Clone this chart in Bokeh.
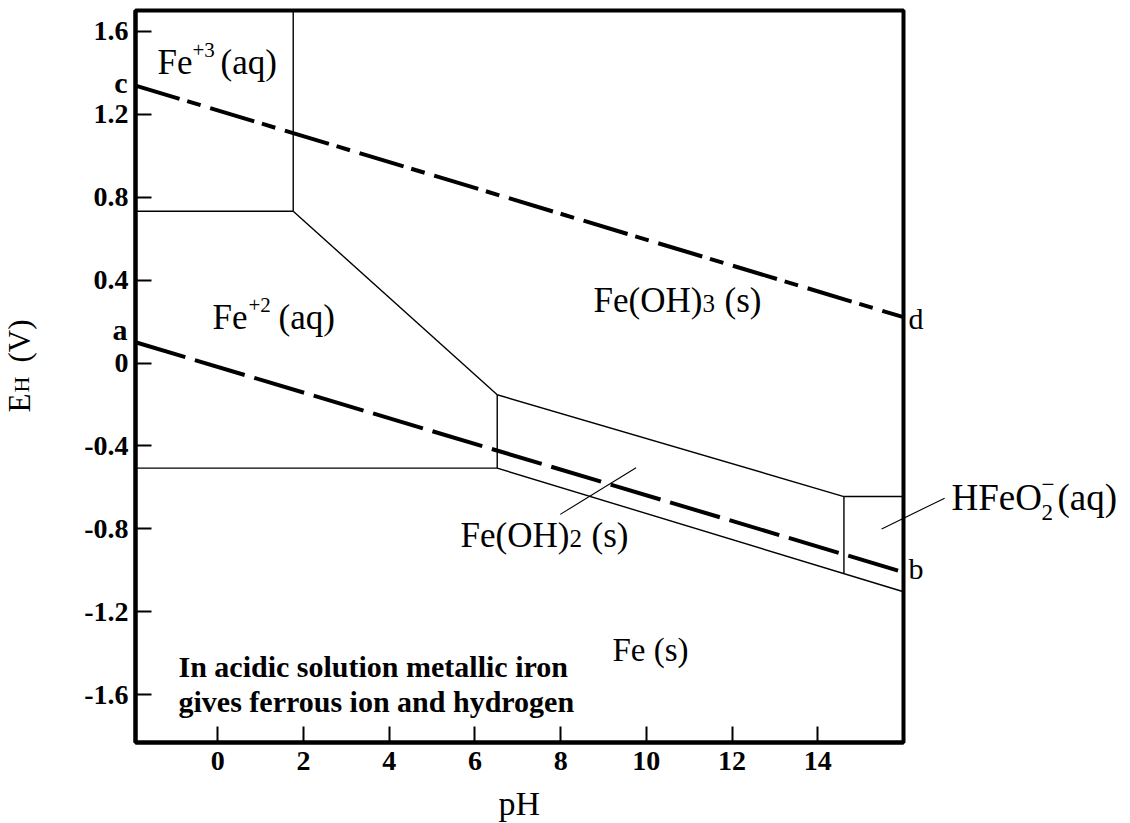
import math
from bokeh.plotting import figure
from bokeh.models import Range1d, FixedTicker, PrintfTickFormatter
from bokeh.core.properties import value
from bokeh.embed import file_html
from bokeh.resources import INLINE

# ---------------- data ----------------
PH_MIN, PH_MAX = -1.92, 16.0
EH_MIN, EH_MAX = -1.83, 1.70

x_ticks = [0, 2, 4, 6, 8, 10, 12, 14]
y_ticks = [-1.6, -1.2, -0.8, -0.4, 0, 0.4, 0.8, 1.2, 1.6]

# stability-field boundaries (pH, EH)
fe3_fe2_ph = [-1.92, 1.76]
fe3_fe2_eh = [0.732, 0.732]
fe3_feoh3_ph = [1.76, 1.76]
fe3_feoh3_eh = [0.732, 1.70]
fe2_feoh3_ph = [1.76, 6.52]
fe2_feoh3_eh = [0.732, -0.153]
fe2_fe_ph = [-1.92, 6.52]
fe2_fe_eh = [-0.507, -0.507]
fe2_feoh2_ph = [6.52, 6.52]
fe2_feoh2_eh = [-0.153, -0.507]
feoh3_feoh2_ph = [6.52, 14.61]
feoh3_feoh2_eh = [-0.153, -0.644]
feoh3_hfeo2_ph = [14.61, 16.0]
feoh3_hfeo2_eh = [-0.644, -0.644]
feoh2_hfeo2_ph = [14.61, 14.61]
feoh2_hfeo2_eh = [-0.644, -1.016]
fe_lower_ph = [6.52, 16.0]
fe_lower_eh = [-0.507, -1.103]

# water stability lines
h2_ph = [-1.92, 16.0]     # a -> b
h2_eh = [0.100, -1.009]
o2_ph = [-1.92, 16.0]     # c -> d
o2_eh = [1.338, 0.221]

# label pointer lines
feoh2_ptr_ph = [7.99, 9.76]
feoh2_ptr_eh = [-0.730, -0.505]
hfeo2_ptr_ph = [15.49, 16.96]
hfeo2_ptr_eh = [-0.800, -0.652]

# ---------------- figure ----------------
W, H = 1130, 823
L, R, T, B = 135, 227, 10, 81
FW, FH = W - L - R, H - T - B
SERIF = "Liberation Serif"

p = figure(width=W, height=H, x_range=Range1d(PH_MIN, PH_MAX), y_range=Range1d(EH_MIN, EH_MAX),
           output_backend="svg", toolbar_location=None,
           min_border_left=L, min_border_right=R, min_border_top=T, min_border_bottom=B)
p.background_fill_color = "white"
p.border_fill_color = "white"
p.grid.visible = False
p.outline_line_color = "black"
p.outline_line_width = 4

for ax in (p.xaxis[0], p.yaxis[0]):
    ax.axis_line_width = 4
    ax.axis_line_color = "black"
    ax.major_tick_in = 16
    ax.major_tick_out = 0
    ax.major_tick_line_width = 2
    ax.minor_tick_line_color = None
    ax.major_label_text_font = SERIF
    ax.major_label_text_font_size = "28px"
    ax.major_label_text_font_style = "bold"
    ax.major_label_text_color = "black"
    ax.axis_label = None

p.xaxis.ticker = FixedTicker(ticks=x_ticks)
p.yaxis.ticker = FixedTicker(ticks=y_ticks)
p.xaxis.formatter = PrintfTickFormatter(format="%g")
p.yaxis.formatter = PrintfTickFormatter(format="%g")
p.xaxis.major_label_standoff = 9
p.yaxis.major_label_standoff = 7

# thin boundaries
xs = [fe3_fe2_ph, fe3_feoh3_ph, fe2_feoh3_ph, fe2_fe_ph, fe2_feoh2_ph,
      feoh3_feoh2_ph, feoh3_hfeo2_ph, feoh2_hfeo2_ph, fe_lower_ph]
ys = [fe3_fe2_eh, fe3_feoh3_eh, fe2_feoh3_eh, fe2_fe_eh, fe2_feoh2_eh,
      feoh3_feoh2_eh, feoh3_hfeo2_eh, feoh2_hfeo2_eh, fe_lower_eh]
p.multi_line(xs, ys, line_color="black", line_width=1.4)

# water lines
p.line(h2_ph, h2_eh, line_color="black", line_width=4, line_dash="52 10")
p.line(o2_ph, o2_eh, line_color="black", line_width=4, line_dash="46 8 14 10")

# pointers (overlay level so the outside part is drawn too)
p.line(feoh2_ptr_ph, feoh2_ptr_eh, line_color="black", line_width=1.1)
p.line(hfeo2_ptr_ph, hfeo2_ptr_eh, line_color="black", line_width=1.1, level="overlay")


def at(sx, sy):
    """canvas pixel -> data coordinate (for text placement)"""
    x = PH_MIN + (sx - L) / FW * (PH_MAX - PH_MIN)
    y = EH_MAX - (sy - T) / FH * (EH_MAX - EH_MIN)
    return x, y


def txt(s, sx, sy, size, style="normal", angle=0.0, align="left"):
    # compensate the renderer's baseline offset
    off = 0.3 * size
    if angle:
        sx -= off
    else:
        sy -= off
    x, y = at(sx, sy)
    p.text(x=[x], y=[y], text=[s], text_font=value(SERIF), text_font_size=f"{size}px",
           text_font_style=style, text_color="black", text_align=align,
           text_baseline="alphabetic", angle=angle, level="overlay")


# Fe+3(aq)
txt("Fe", 157, 72, 35)
txt("+3", 192, 56, 21)
txt("(aq)", 220, 72, 35)
# Fe+2(aq)
txt("Fe", 212, 327, 35)
txt("+2", 248, 311, 21)
txt("(aq)", 278, 327, 35)
# Fe(OH)3 (s)
txt("Fe(OH)", 593, 310, 35)
txt("3", 702, 310, 25)
txt("(s)", 724, 310, 35)
# Fe(OH)2 (s)
txt("Fe(OH)", 460, 545, 35)
txt("2", 569, 545, 25)
txt("(s)", 591, 545, 35)
# Fe (s)
txt("Fe (s)", 612, 659, 33)
# HFeO2-(aq)
txt("HFeO", 951, 508, 37)
txt("2", 1041, 519, 23)
txt("\u2212", 1041, 491, 23)
txt("(aq)", 1057, 508, 37)
# note
txt("In acidic solution metallic iron", 178, 675, 30, "bold")
txt("gives ferrous ion and hydrogen", 178, 710, 30, "bold")
# line end letters
txt("c", 127, 91, 30, "bold", align="right")
txt("a", 127, 338, 30, "bold", align="right")
txt("d", 908, 327, 30)
txt("b", 908, 577, 30)
# axis titles
txt("pH", 498, 813, 34)
txt("E", 28, 412, 31, angle=math.pi / 2)
txt("H", 28, 392, 22, angle=math.pi / 2)
txt("(V)", 28, 362, 31, angle=math.pi / 2)

open("out.html", "w").write(file_html(p, INLINE))
